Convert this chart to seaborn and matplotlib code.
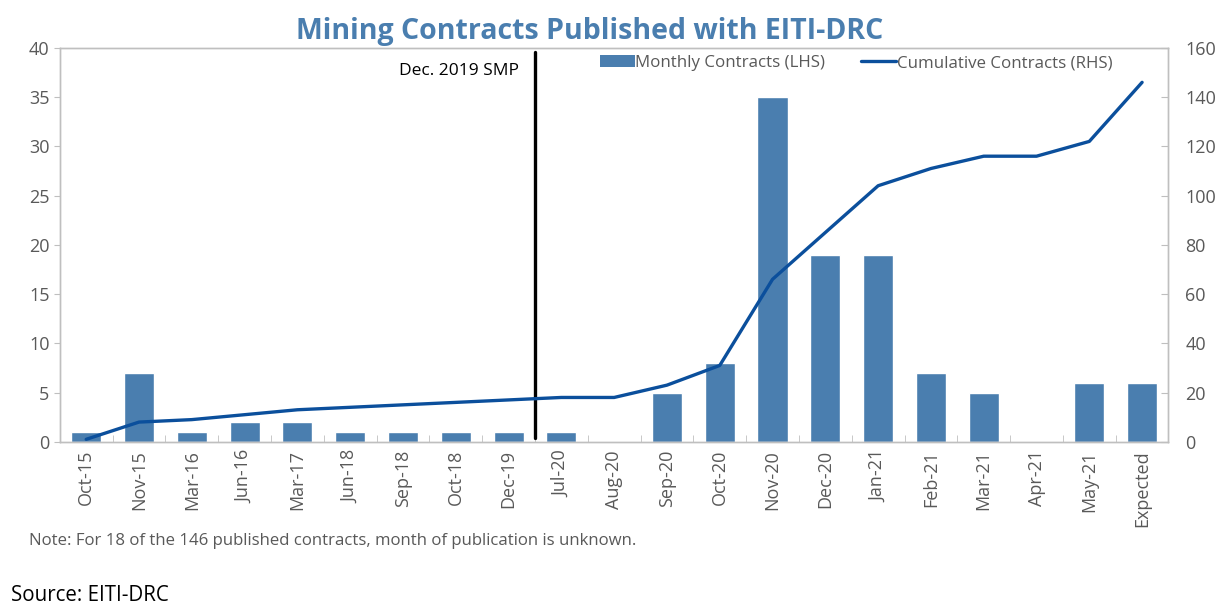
import matplotlib
matplotlib.use('Agg')
import matplotlib.pyplot as plt
import seaborn as sns
import pandas as pd
import numpy as np
from matplotlib.patches import Patch
from matplotlib.lines import Line2D

# ---- data ----
months = ['Oct-15', 'Nov-15', 'Mar-16', 'Jun-16', 'Mar-17', 'Jun-18', 'Sep-18',
          'Oct-18', 'Dec-19', 'Jul-20', 'Aug-20', 'Sep-20', 'Oct-20', 'Nov-20',
          'Dec-20', 'Jan-21', 'Feb-21', 'Mar-21', 'Apr-21', 'May-21', 'Expected']
monthly = [1, 7, 1, 2, 2, 1, 1, 1, 1, 1, 0, 5, 8, 35, 19, 19, 7, 5, 0, 6, 6]
cumulative = [1, 8, 9, 11, 13, 14, 15, 16, 17, 18, 18, 23, 31, 66, 85, 104,
              111, 116, 116, 122, 146]
smp_position = 8.5   # between Dec-19 and Jul-20

BAR_COLOR = '#4a7eaf'
LINE_COLOR = '#0b4f9c'
GREY = '#595959'
FRAME = '#bfbfbf'

sns.set_style('white')
plt.rcParams['font.family'] = ['Open Sans', 'DejaVu Sans']

df = pd.DataFrame({'Month': months, 'Monthly': monthly,
                   'Cumulative': cumulative})
df['pos'] = np.arange(len(df))

fig = plt.figure(figsize=(12.21, 6.06), dpi=100)
ax1 = fig.add_axes([0.049, 0.271, 0.908, 0.650])

sns.barplot(data=df, x='Month', y='Monthly', color=BAR_COLOR, width=0.57,
            saturation=1, ax=ax1)
ax1.set_ylim(0, 40)
ax1.set_yticks(range(0, 41, 5))
ax1.set_xlim(-0.5, len(df) - 0.5)
ax1.set_xlabel('')
ax1.set_ylabel('')
ax1.tick_params(axis='y', labelsize=13, colors=GREY, direction='out',
                length=4, color=FRAME)
ax1.tick_params(axis='x', which='major', labelsize=13, labelcolor=GREY,
                rotation=90, length=0, pad=6)
ax1.set_xticks(np.arange(len(df) + 1) - 0.5, minor=True)
ax1.tick_params(axis='x', which='minor', direction='in', length=5,
                color=FRAME, bottom=True)

ax1.axvline(smp_position, ymin=0.01, ymax=0.99, color='black', linewidth=2.4)
ax1.text(smp_position - 0.3, 37.7, 'Dec. 2019 SMP', ha='right', va='center',
         fontsize=12.5, color='black')

ax2 = ax1.twinx()
sns.lineplot(data=df, x='pos', y='Cumulative', color=LINE_COLOR, linewidth=2.4,
             ax=ax2)
ax2.set_ylim(0, 160)
ax2.set_yticks(range(0, 161, 20))
ax2.set_ylabel('')
ax2.tick_params(axis='y', labelsize=13, colors=GREY, direction='in',
                length=5, color=FRAME, pad=12)
ax2.tick_params(axis='y', labelcolor=GREY)
ax2.set_xlim(-0.5, len(df) - 0.5)

for ax in (ax1, ax2):
    for sp in ax.spines.values():
        sp.set_color(FRAME)
        sp.set_linewidth(1.0)
ax1.tick_params(axis='y', labelcolor=GREY)

handles = [Patch(facecolor=BAR_COLOR, edgecolor='none'),
           Line2D([0], [0], color=LINE_COLOR, linewidth=2.4)]
labels = ['Monthly Contracts (LHS)', 'Cumulative Contracts (RHS)']
leg = ax2.legend(handles, labels, loc='upper right', ncol=2, frameon=False,
                 fontsize=12.2, bbox_to_anchor=(0.963, 1.02), handlelength=2.05,
                 handletextpad=0.05, columnspacing=2.1)
for t in leg.get_texts():
    t.set_color(GREY)

fig.text(0.483, 0.948, 'Mining Contracts Published with EITI-DRC', ha='center',
         va='center', fontsize=20.5, fontweight='bold', color='#4a7eaf')
fig.text(0.024, 0.108, 'Note: For 18 of the 146 published contracts, month of '
         'publication is unknown.', ha='left', va='center', fontsize=12.1,
         color=GREY)
fig.text(0.009, 0.009, 'Source: EITI-DRC', ha='left', va='baseline',
         fontsize=14.8, color='black')

fig.savefig('out.png', dpi=100)
